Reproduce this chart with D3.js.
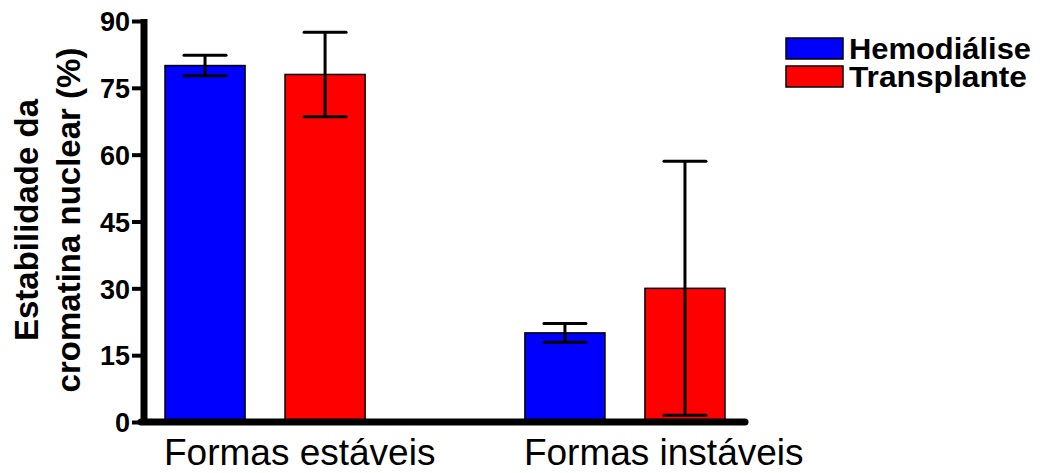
<!DOCTYPE html>
<html>
<head>
<meta charset="utf-8">
<script src="https://cdn.jsdelivr.net/npm/d3@7"></script>
<style>
  html, body { margin: 0; padding: 0; background: #fff; }
  svg { display: block; font-family: "Liberation Sans", Arial, sans-serif; }
</style>
</head>
<body>
<svg id="chart" width="1049" height="473"></svg>
<script>
// Chromatin stability by group
const categories = ["Formas estáveis", "Formas instáveis"];
const seriesNames = ["Hemodiálise", "Transplante"];
const seriesColors = ["#0000ff", "#ff0000"];
const hemodialiseMean = [80, 20];
const hemodialiseErr = [2.3, 2.1];
const transplanteMean = [78, 30];
const transplanteErr = [9.5, 28.5];
const yTicks = [0, 15, 30, 45, 60, 75, 90];

const means = [hemodialiseMean, transplanteMean];
const errs = [hemodialiseErr, transplanteErr];

const svg = d3.select("#chart");

const axisX = 144;
const y = d3.scaleLinear().domain([0, 90]).range([422, 21]);
const x0 = d3.scaleBand().domain(categories).range([165, 725]).paddingInner(0.444).paddingOuter(0);
const x1 = d3.scaleBand().domain(seriesNames).range([0, x0.bandwidth()]).paddingInner(0.333);

const data = [];
categories.forEach((c, ci) => {
  seriesNames.forEach((s, si) => {
    data.push({ cat: c, series: s, si, mean: means[si][ci], err: errs[si][ci] });
  });
});

// bars
svg.append("g").selectAll("rect").data(data).join("rect")
  .attr("x", d => x0(d.cat) + x1(d.series))
  .attr("y", d => y(d.mean))
  .attr("width", x1.bandwidth())
  .attr("height", d => y(0) - y(d.mean))
  .attr("fill", d => seriesColors[d.si])
  .attr("stroke", "#000")
  .attr("stroke-width", 1.5);

// error bars
const eb = svg.append("g").attr("stroke", "#000").attr("stroke-width", 3);
data.forEach(d => {
  const cx = x0(d.cat) + x1(d.series) + x1.bandwidth() / 2;
  const top = y(d.mean + d.err), bot = y(Math.max(0, d.mean - d.err));
  eb.append("line").attr("x1", cx).attr("x2", cx).attr("y1", top).attr("y2", bot);
  [top, bot].forEach(v => eb.append("line")
    .attr("x1", cx - 21).attr("x2", cx + 21).attr("y1", v).attr("y2", v)
    .attr("stroke-linecap", "round"));
});

// y axis
const yAxis = svg.append("g").attr("transform", `translate(${axisX},0)`)
  .call(d3.axisLeft(y).tickValues(yTicks).tickSize(12).tickPadding(2));
yAxis.select(".domain").attr("stroke-width", 7).attr("d", `M0,${y(90) - 2}V${y(0) + 3}`);
yAxis.selectAll(".tick line").attr("stroke-width", 4);
yAxis.selectAll(".tick text")
  .attr("font-size", 27).attr("font-weight", "bold").attr("fill", "#000")
  .attr("font-family", "Liberation Sans, Arial, sans-serif").attr("dy", "0.36em");

// x axis baseline
svg.append("line")
  .attr("x1", axisX - 3).attr("x2", 745).attr("y1", y(0)).attr("y2", y(0))
  .attr("stroke", "#000").attr("stroke-width", 7).attr("stroke-linecap", "round");

// category labels, left-aligned with each group's first bar
svg.append("g").selectAll("text").data(categories).join("text")
  .attr("x", d => x0(d) - 1)
  .attr("y", 465)
  .attr("font-size", 37)
  .text(d => d);

// y axis title
const yt = svg.append("text")
  .attr("transform", "translate(0,220) rotate(-90)")
  .attr("text-anchor", "middle")
  .attr("font-size", 33).attr("font-weight", "bold");
yt.append("tspan").attr("x", 0).attr("y", 38).text("Estabilidade da");
yt.append("tspan").attr("x", 0).attr("y", 80).text("cromatina nuclear (%)");

// legend
const legendWidths = [182, 178];
const lg = svg.append("g").selectAll("g").data(seriesNames).join("g")
  .attr("transform", (d, i) => `translate(786,${38 + i * 28})`);
lg.append("rect").attr("width", 57).attr("height", 21)
  .attr("fill", (d, i) => seriesColors[i]).attr("stroke", "#000").attr("stroke-width", 1.5);
lg.append("text").attr("x", 63).attr("y", 21)
  .attr("font-size", 29).attr("font-weight", "bold")
  .attr("textLength", (d, i) => legendWidths[i]).attr("lengthAdjust", "spacingAndGlyphs")
  .text(d => d);
</script>
</body>
</html>
